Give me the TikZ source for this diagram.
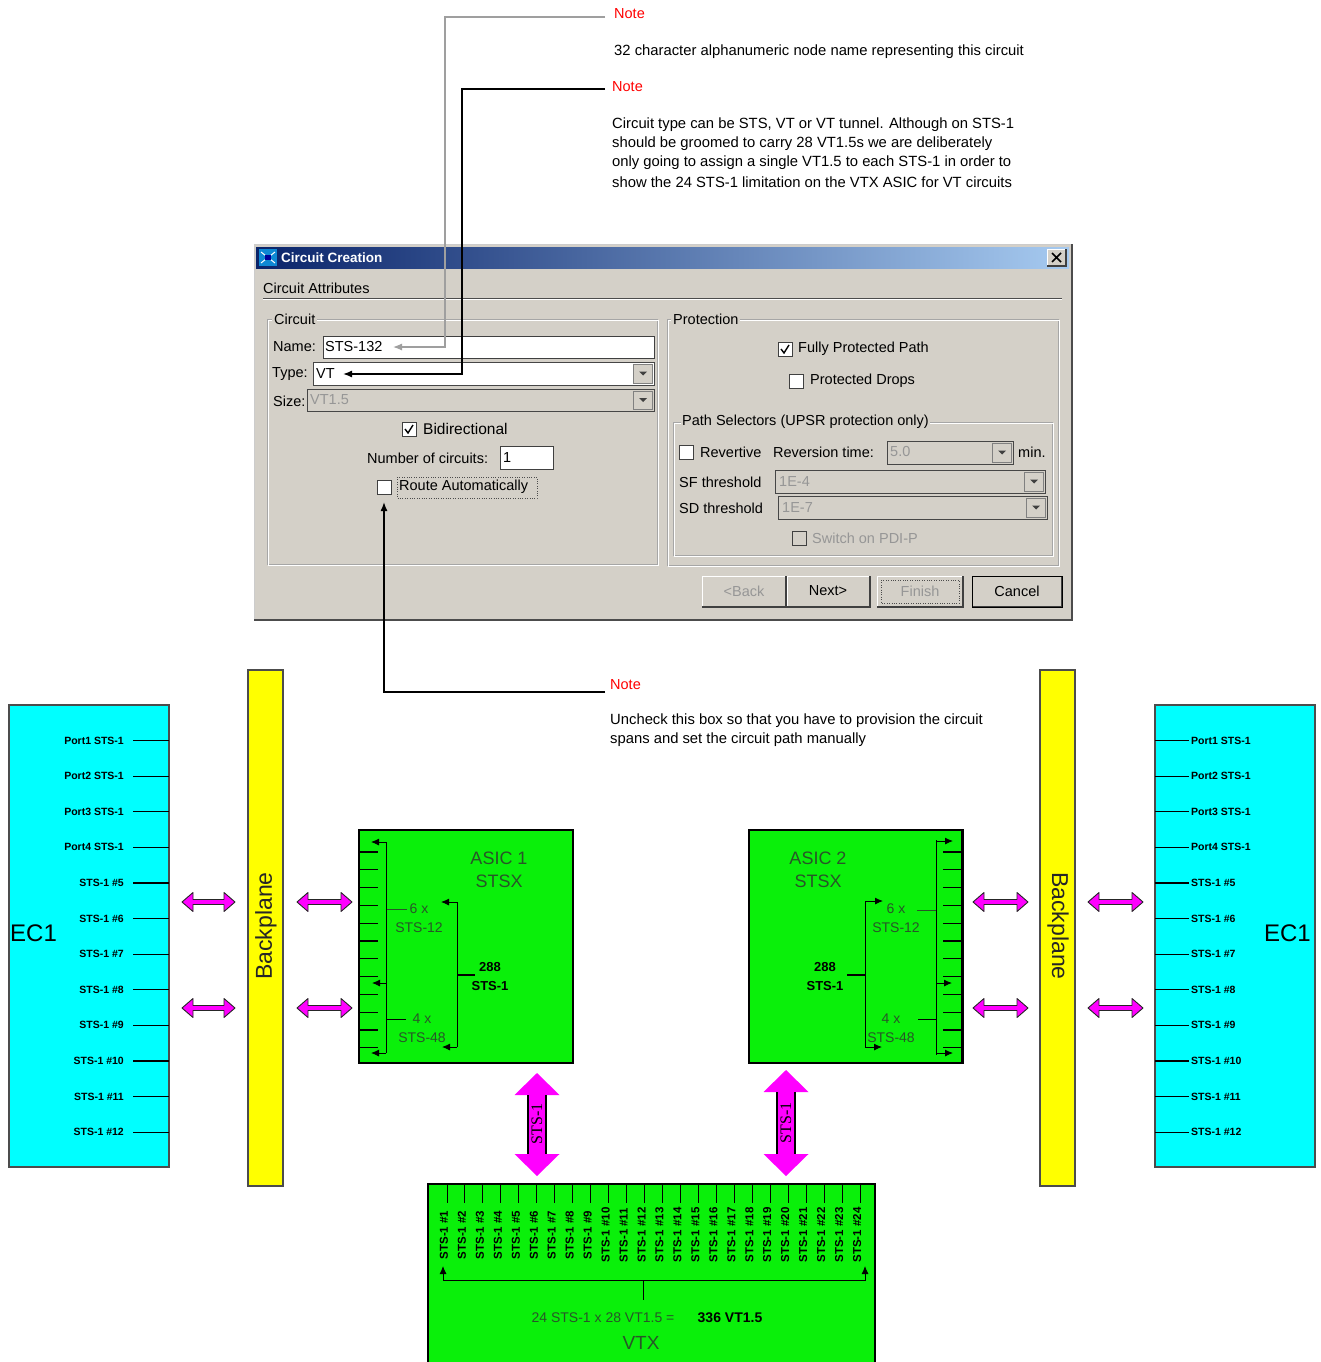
\documentclass[tikz,border=0pt]{standalone}
\usepackage{fontspec}
\setmainfont{Liberation Sans}
\newfontfamily\myserif{Liberation Serif}
\usetikzlibrary{arrows.meta}
\definecolor{dlggray}{RGB}{212,208,200}
\definecolor{titleL}{RGB}{10,36,106}
\definecolor{titleR}{RGB}{166,202,240}
\definecolor{ecyan}{RGB}{0,255,255}
\definecolor{byellow}{RGB}{255,255,0}
\definecolor{agreen}{RGB}{10,240,10}
\definecolor{amag}{RGB}{255,0,255}
\definecolor{atext}{RGB}{40,85,40}
\definecolor{dis}{RGB}{150,150,150}
\definecolor{notered}{RGB}{255,0,0}
\tikzset{
 notelbl/.style={anchor=west, text=notered, font=\fontsize{14.5}{17}\selectfont, inner sep=0},
 notetxt/.style={anchor=west, font=\fontsize{14.8}{17}\selectfont, inner sep=0},
 dl/.style={anchor=west, inner sep=0, font=\fontsize{14.5}{17}\selectfont},
 dld/.style={dl, text=dis},
 ptr/.style={-{Latex[length=9pt,width=7pt]}, line width=1.4pt},
 arr/.style={-{Latex[length=8pt,width=7pt]}, line width=0.9pt},
 port/.style={font=\bfseries\fontsize{10.5}{10.5}\selectfont, inner sep=0},
 vtxl/.style={font=\bfseries\fontsize{11.5}{11.5}\selectfont, inner sep=0, rotate=90},
 asict/.style={align=center, text=atext, font=\fontsize{18}{23}\selectfont, inner sep=0},
 smallt/.style={align=center, text=atext, font=\fontsize{14}{19}\selectfont, inner sep=0},
 boldt/.style={align=center, font=\bfseries\fontsize{13}{19}\selectfont, inner sep=0},
 blk/.style={anchor=north west, inner sep=0, outer sep=0, draw=black, line width=1.2pt},
 bptext/.style={font=\fontsize{23}{23}\selectfont, inner sep=0, text=black!85},
 ectext/.style={font=\fontsize{24}{24}\selectfont, inner sep=0},
}
\newcommand{\dlgcombo}[5]{%
 \draw[fill=#5, draw=gray!55!black] (#1,#2) rectangle (#3,#4);
 \draw[fill=dlggray, draw=gray] ({#3-21},{#2+2}) rectangle ({#3-2},{#4-2});
 \fill[black!75] ({#3-15},{(#2+#4)/2-2}) -- ({#3-7},{(#2+#4)/2-2}) -- ({#3-11},{(#2+#4)/2+2}) -- cycle;}
\newcommand{\dlgbox}[3]{\draw[fill=#3, draw=gray!50!black] (#1,#2) rectangle ({#1+14},{#2+14});}
\newcommand{\dlgtick}[2]{\draw[line width=1.4pt] ({#1+3},{#2+7}) -- ({#1+6},{#2+11}) -- ({#1+11},{#2+3});}
\newcommand{\dlgbtn}[4]{%
 \fill[dlggray] (#1,#2) rectangle (#3,#4);
 \draw[white, line width=1pt] (#1,#4) -- (#1,#2) -- (#3,#2);
 \draw[black!75, line width=1.3pt] (#1,#4) -- (#3,#4) -- (#3,#2);}
\newcommand{\hdarr}[3]{%
 \filldraw[fill=amag, draw=black!85, line width=0.9pt, line join=round]
 (#1,#3) -- ({#1+11},{#3-9.5}) -- ({#1+11},{#3-2.5}) -- ({#2-11},{#3-2.5}) -- ({#2-11},{#3-9.5}) -- (#2,#3)
 -- ({#2-11},{#3+9.5}) -- ({#2-11},{#3+2.5}) -- ({#1+11},{#3+2.5}) -- ({#1+11},{#3+9.5}) -- cycle;}
\newcommand{\vdarr}[3]{%
 \fill[amag] (#1,#2) -- ({#1+22.5},{#2+22}) -- ({#1+9},{#2+22}) -- ({#1+9},{#3-22}) -- ({#1+22.5},{#3-22}) -- (#1,#3)
 -- ({#1-22.5},{#3-22}) -- ({#1-9},{#3-22}) -- ({#1-9},{#2+22}) -- ({#1-22.5},{#2+22}) -- cycle;
 \draw[black, line width=1.3pt] ({#1-9},{#2+22}) -- ({#1-9},{#3-22}) ({#1+9},{#2+22}) -- ({#1+9},{#3-22});}
\begin{document}
\begin{tikzpicture}[x=1pt,y=-1pt]
\useasboundingbox (0,0) rectangle (1321,1362);
\clip (0,0) rectangle (1321,1362);
\fill[white] (0,0) rectangle (1321,1362);

% ---------------- Notes ----------------
\node[notelbl] (n1) at (614,14) {Note};
\node[notetxt] (n1t) at (614,52) {32 character alphanumeric node name representing this circuit};
\node[notelbl] (n2) at (612,87) {Note};
\node[notetxt] (n2a) at (612,125) {Circuit type can be STS, VT or VT tunnel. Although on STS-1};
\node[notetxt] (n2b) at (612,144) {should be groomed to carry 28 VT1.5s we are deliberately};
\node[notetxt] (n2c) at (612,163) {only going  to assign a single VT1.5 to each STS-1 in order to};
\node[notetxt] (n2d) at (612,182) {show the 24 STS-1 limitation on the VTX ASIC for VT circuits};

% ---------------- Dialog ----------------
\fill[dlggray] (254,244) rectangle (1071,619);
\draw[gray!40] (254,619) -- (254,244) -- (1071,244);
\draw[black!70, line width=1.6pt] (254,620) -- (1072,620) -- (1072,244);
\shade[left color=titleL, right color=titleR] (256,247) rectangle (1069,268);
\fill[cyan!70!blue] (259,249) rectangle (277,266);
\draw[white, line width=1pt] (261,252) -- (275,263) (261,263) -- (275,252);
\fill[blue!60!black] (265,255) rectangle (271,260);
\node[anchor=west, inner sep=0, text=white, font=\bfseries\fontsize{13.5}{15}\selectfont] (title) at (281,258) {Circuit Creation};
\dlgbtn{1047}{249}{1066}{266}
\draw[line width=1.6pt] (1052,253) -- (1061,262) (1052,262) -- (1061,253);

\node[dl] (attr) at (263,288) {Circuit Attributes};
\draw[gray!60!black] (263,298) -- (1062,298);
\draw[white] (263,299) -- (1062,299);

% Circuit group
\draw[gray!70] (267,319) rectangle (657,564);
\draw[white] (268,320) rectangle (658,565);
\node[dl, fill=dlggray, inner xsep=2pt] (gcirc) at (272,319) {Circuit};
\node[dl] (lname) at (273,347) {Name:};
\draw[fill=white, draw=gray!50!black] (323,336) rectangle (654,358);
\node[dl] (vname) at (325,347) {STS-132};
\coordinate (nameTip) at (393,347);
\node[dl] (ltype) at (272,374) {Type:};
\dlgcombo{313}{362}{654}{385}{white}
\node[dl] (vtype) at (316,374) {VT};
\coordinate (typeTip) at (343,374);
\node[dl] (lsize) at (273,401) {Size:};
\dlgcombo{307}{389}{654}{411}{dlggray}
\node[dld] (vsize) at (310,400) {VT1.5};
\dlgbox{402}{422}{white}\dlgtick{402}{422}
\node[dl, font=\fontsize{15.5}{17}\selectfont] (bidir) at (423,429) {Bidirectional};
\node[dl] (lnum) at (367,458) {Number of circuits:};
\draw[fill=white, draw=gray!50!black] (500,446) rectangle (553,469);
\node[dl] (vnum) at (503,458) {1};
\dlgbox{377}{480}{white}
\node[dl] (route) at (399,487) {Route Automatically};
\draw[dotted, black!70] (397,477) rectangle (537,498);
\coordinate (routeTip) at (384,502);

% Protection group
\draw[gray!70] (667,319) rectangle (1058,565);
\draw[white] (668,320) rectangle (1059,566);
\node[dl, fill=dlggray, inner xsep=2pt] (gprot) at (671,319) {Protection};
\dlgbox{778}{342}{white}\dlgtick{778}{342}
\node[dl] (fpp) at (798,349) {Fully Protected Path};
\dlgbox{789}{374}{white}
\node[dl] (pdrops) at (810,381) {Protected Drops};
\draw[gray!70] (673,422) rectangle (1052,555);
\draw[white] (674,423) rectangle (1053,556);
\node[dl, fill=dlggray, inner xsep=1pt] (gpath) at (681,422) {Path Selectors (UPSR protection only)};
\dlgbox{679}{445}{white}
\node[dl] (rev) at (700,452) {Revertive};
\node[dl] (revt) at (773,452) {Reversion time:};
\dlgcombo{887}{441}{1013}{464}{dlggray}
\node[dld] (vrev) at (890,452) {5.0};
\node[dl] (min) at (1018,452) {min.};
\node[dl] (sf) at (679,482) {SF threshold};
\dlgcombo{775}{470}{1045}{493}{dlggray}
\node[dld] (vsf) at (779,482) {1E-4};
\node[dl] (sd) at (679,508) {SD threshold};
\dlgcombo{778}{496}{1047}{519}{dlggray}
\node[dld] (vsd) at (782,508) {1E-7};
\dlgbox{792}{531}{dlggray}
\node[dld] (sw) at (812,538) {Switch on PDI-P};

% Buttons
\dlgbtn{702}{576}{786}{607}
\node[dld, anchor=center] (bback) at (744,591) {<Back};
\dlgbtn{787}{576}{870}{607}
\node[dl, anchor=center] (bnext) at (828,591) {Next>};
\dlgbtn{877}{576}{963}{607}
\draw[dotted, black!70] (881,580) rectangle (959,603);
\node[dld, anchor=center] (bfin) at (920,591) {Finish};
\dlgbtn{972}{576}{1062}{607}
\draw[black, line width=1pt] (972,576) rectangle (1062,607);
\node[dl, anchor=center] (bcan) at (1017,591) {Cancel};

% Note connectors
\coordinate (c1) at (605,17);
\coordinate (c2) at (605,89);
\draw[ptr, draw=gray!75, line width=1.2pt] (c1) -- (445,17) -- (445,347) -- (nameTip);
\draw[ptr] (c2) -- (462,89) -- (462,374) -- (typeTip);

% Note 3
\node[notelbl] (n3) at (610,685) {Note};
\node[notetxt] (n3a) at (610,721) {Uncheck this  box so that  you have to provision the circuit};
\node[notetxt] (n3b) at (610,740) {spans and set the circuit path manually};
\coordinate (c3) at (605,692);
\draw[ptr] (c3) -- (384,692) -- (routeTip);

% ---------------- Bottom diagram ----------------
\node[blk, fill=ecyan, minimum width=160, minimum height=462, draw=black!70] (ecL) at (9,705) {};
\node[blk, fill=ecyan, minimum width=160, minimum height=462, draw=black!70] (ecR) at (1155,705) {};
\node[ectext, anchor=west] (ecLt) at (10,933) {EC1};
\node[ectext, anchor=east] (ecRt) at (1311,933) {EC1};
\foreach \i/\t in {1/Port1 STS-1,2/Port2 STS-1,3/Port3 STS-1,4/Port4 STS-1,5/STS-1 \#5,6/STS-1 \#6,7/STS-1 \#7,8/STS-1 \#8,9/STS-1 \#9,10/STS-1 \#10,11/STS-1 \#11,12/STS-1 \#12}{
 \pgfmathsetmacro\yy{740.5+(\i-1)*35.6}
 \draw[line width=1.2pt] (133,\yy) -- (169,\yy);
 \node[port, anchor=east] at (124,\yy) {\t};
 \draw[line width=1.2pt] (1155,\yy) -- (1189,\yy);
 \node[port, anchor=west] at (1191,\yy) {\t};
}

\node[blk, fill=byellow, minimum width=35, minimum height=516, draw=black!70] (bpL) at (248,670) {};
\node[blk, fill=byellow, minimum width=35, minimum height=516, draw=black!70] (bpR) at (1040,670) {};
\node[bptext, rotate=90] (bpLt) at (266,926) {Backplane};
\node[bptext, rotate=-90] (bpRt) at (1058,926) {Backplane};

\hdarr{182}{235}{902}
\hdarr{182}{235}{1008}
\hdarr{297}{352}{902}
\hdarr{297}{352}{1008}
\hdarr{973}{1028}{902}
\hdarr{973}{1028}{1008}
\hdarr{1088}{1143}{902}
\hdarr{1088}{1143}{1008}

% ASIC 1
\node[blk, fill=agreen, minimum width=214, minimum height=233] (asic1) at (359,830) {};
\node[asict] (a1t) at (499,870) {ASIC 1\\STSX};
\draw[line width=0.9pt] (386,842) -- (386,1053);
\draw[arr] (386,842) -- (371,842);
\draw[arr] (386,983) -- (372,983);
\draw[arr] (386,1053) -- (371,1053);
\foreach \i in {1,...,12}{\pgfmathsetmacro\yy{852+(\i-1)*17.8}\draw[line width=1.1pt] (359,\yy) -- (378,\yy);}
\draw[line width=0.7pt, draw=atext] (387,909) -- (407,909);
\node[smallt] (a1s12) at (419,918.5) {6 x\\STS-12};
\draw[line width=0.9pt] (387,1019) -- (406,1019);
\node[smallt] (a1s48) at (422,1028) {4 x\\STS-48};
\draw[line width=0.9pt] (457,902) -- (457,1047);
\draw[arr] (457,902) -- (441,902);
\draw[arr] (457,1047) -- (442,1047);
\draw[line width=1.1pt] (457,975) -- (475,975);
\node[boldt] (a1c) at (490,976.5) {288\\STS-1};

% ASIC 2
\node[blk, fill=agreen, minimum width=214, minimum height=233] (asic2) at (749,830) {};
\draw[line width=2pt] (962,830) -- (962,1063);
\node[asict] (a2t) at (818,870) {ASIC 2\\STSX};
\draw[line width=0.9pt] (936,840) -- (936,1055);
\draw[arr] (936,841) -- (953,841);
\draw[arr] (936,983) -- (952,983);
\draw[arr] (936,1053) -- (953,1053);
\foreach \i in {1,...,12}{\pgfmathsetmacro\yy{852+(\i-1)*17.8}\draw[line width=1.1pt] (943,\yy) -- (962,\yy);}
\draw[line width=0.7pt, draw=atext] (917,910) -- (936,910);
\node[smallt] (a2s12) at (896,918.5) {6 x\\STS-12};
\draw[line width=0.9pt] (918,1019) -- (936,1019);
\node[smallt] (a2s48) at (891,1028) {4 x\\STS-48};
\draw[line width=0.9pt] (865,901) -- (865,1047);
\draw[arr] (865,901) -- (883,901);
\draw[arr] (865,1047) -- (882,1047);
\draw[line width=1.1pt] (847,975) -- (865,975);
\node[boldt] (a2c) at (825,976.5) {288\\STS-1};

% vertical arrows
\vdarr{537}{1073}{1176}
\vdarr{786}{1070}{1176}
\node[rotate=90, inner sep=0, font=\myserif\fontsize{16}{16}\selectfont] (sL) at (537,1124) {STS-1};
\node[rotate=90, inner sep=0, font=\myserif\fontsize{16}{16}\selectfont] (sR) at (786,1123) {STS-1};

% VTX
\node[blk, fill=agreen, minimum width=447, minimum height=190] (vtx) at (428,1184) {};
\foreach \i in {1,...,24}{
 \pgfmathsetmacro\xx{444+(\i-1)*17.96}
 \draw[line width=1pt] (\xx+3,1185) -- (\xx+3,1203);
 \node[vtxl] at (\xx,1235) {STS-1 \#\i};
}
\draw[arr] (643,1280) -| (443,1266);
\draw[arr] (643,1280) -| (865,1266);
\draw[line width=0.9pt] (643,1280) -- (643,1300);
\node[inner sep=0, text=atext, font=\fontsize{14}{14}\selectfont] (vf) at (603,1318) {24 STS-1 x 28 VT1.5 =};
\node[inner sep=0, font=\bfseries\fontsize{14}{14}\selectfont] (vb) at (730,1318) {336 VT1.5};
\node[inner sep=0, text=atext, font=\fontsize{19}{19}\selectfont] (vtxt) at (641,1343) {VTX};
\end{tikzpicture}
\end{document}
